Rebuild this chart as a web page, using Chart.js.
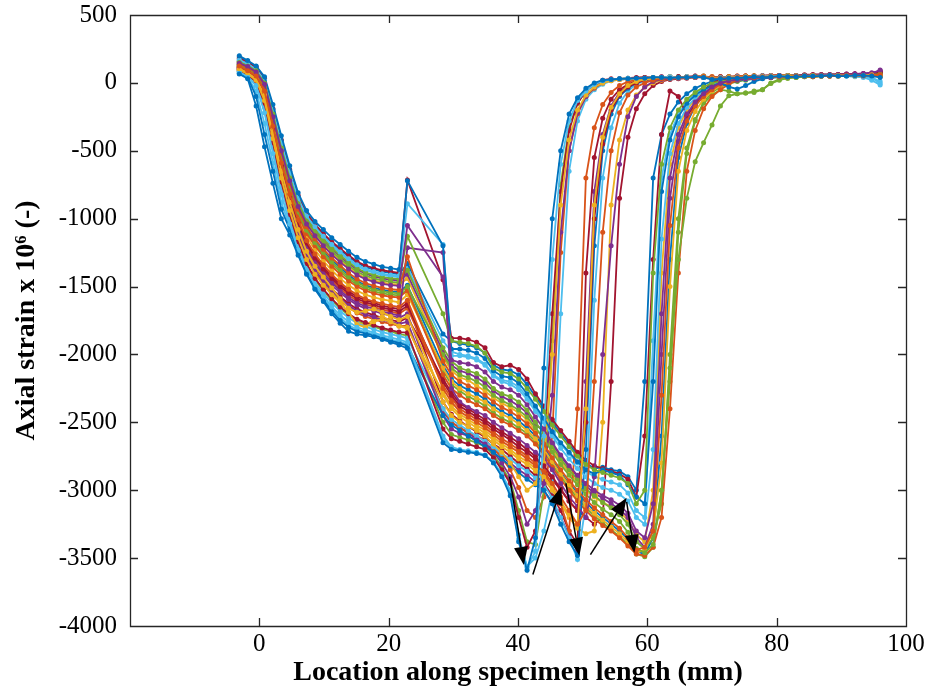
<!DOCTYPE html>
<html><head><meta charset="utf-8">
<script src="https://cdn.jsdelivr.net/npm/chart.js@4.4.0/dist/chart.umd.min.js"></script>
<style>html,body{margin:0;padding:0;background:#fff;}#wrap{width:930px;height:694px;}</style>
</head><body><div id="wrap"><canvas id="c" width="930" height="694"></canvas></div>
<script>
// Sensor locations along the specimen (mm)
const locationsMm = [-3.1,-1.8,-0.5,0.8,2.1,3.4,4.7,6.0,7.3,8.6,9.9,11.2,12.5,13.8,15.1,16.4,17.7,19.0,20.3,21.6,22.9,
28.4,29.7,31.0,32.3,33.6,34.9,36.2,37.5,38.8,40.1,41.4,42.7,
44.0,45.3,46.6,47.9,49.2,50.5,51.8,53.1,54.4,55.7,57.0,58.3,59.6,60.9,62.2,63.5,64.8,66.1,67.4,68.7,
70.0,71.3,72.6,73.9,75.2,76.5,77.8,79.1,80.4,81.7,83.0,84.3,85.6,86.9,88.2,89.5,90.8,92.1,93.4,94.7,96.0];

// Axial strain x 1e6, one array per recorded load step
const strain01 = [65,30,-170,-470,-740,-1000,-1120,-1270,-1410,-1520,-1610,-1700,-1770,-1830,-1850,-1860,-1870,-1890,-1910,-1930,-1955,
-2650,-2700,-2710,-2720,-2730,-2745,-2800,-2900,-3040,-3380,-3590,-3350,
-2100,-1000,-500,-230,-110,-40,0,20,25,30,30,35,35,40,40,35,40,40,45,40,
25,30,35,35,40,45,40,45,50,45,45,50,50,50,55,50,50,55,55,50,40];
const strain02 = [125,90,50,-60,-320,-590,-820,-1010,-1160,-1260,-1340,-1410,-1470,-1520,-1560,-1590,-1610,-1625,-1640,-1650,-1600,
-2250,-2350,-2420,-2460,-2500,-2540,-2590,-2640,-2680,-2720,-2770,-2820,
-2860,-2950,-3050,-3150,-3250,-3150,-2200,-1100,-500,-220,-90,-30,0,20,30,35,40,40,45,45,
30,35,35,40,40,40,45,45,45,45,50,50,45,50,50,50,55,55,50,55,60];
const strain03 = [105,75,30,-90,-370,-650,-880,-1080,-1240,-1350,-1430,-1510,-1590,-1660,-1690,-1680,-1665,-1690,-1720,-1745,-1720,
-2300,-2400,-2460,-2500,-2540,-2580,-2630,-2680,-2720,-2770,-2810,-2860,
-2900,-2980,-3080,-3180,-3250,-2400,-900,-400,-180,-80,-20,10,25,30,35,35,40,40,45,45,
35,35,40,40,45,45,45,50,45,50,50,50,55,50,50,55,55,50,55,60,55];
const strain04 = [145,120,80,-10,-250,-500,-720,-910,-1040,-1125,-1200,-1265,-1320,-1370,-1415,-1445,-1465,-1480,-1490,-1495,-1050,
-1430,-2040,-2060,-2070,-2090,-2130,-2200,-2240,-2260,-2300,-2370,-2460,
-2550,-2650,-2740,-2820,-2890,-2950,-3000,-3040,-3070,-3110,-3170,-3300,-3350,-3100,-1700,-700,-380,-230,-140,-80,
-30,0,15,25,30,35,40,40,45,45,50,50,50,55,55,55,60,65,65,70,95];
const strain05 = [150,125,90,0,-230,-480,-700,-890,-1020,-1100,-1175,-1240,-1295,-1345,-1390,-1420,-1440,-1455,-1465,-1470,-1130,
-1700,-1900,-1910,-1920,-1940,-1990,-2100,-2130,-2140,-2180,-2250,-2330,
-2420,-2520,-2600,-2680,-2750,-2810,-2850,-2870,-2890,-2910,-2950,-3100,-3000,-1400,-600,-330,-200,-120,-70,-30,
0,10,20,30,35,40,40,45,45,50,50,50,55,50,55,55,55,60,55,60,65];
const strain06 = [80,45,-20,-220,-520,-820,-1040,-1230,-1380,-1490,-1570,-1650,-1710,-1760,-1800,-1820,-1840,-1860,-1875,-1890,-1910,
-2600,-2680,-2700,-2710,-2720,-2740,-2790,-2880,-3000,-3330,-3570,-3450,
-2600,-1300,-600,-280,-130,-60,-10,15,25,30,35,30,35,40,40,45,40,45,45,40,
35,40,40,45,45,45,50,50,50,50,55,50,50,55,55,55,50,50,45,40,-5];
const strain07 = [110,85,45,-70,-330,-610,-840,-1030,-1180,-1290,-1370,-1440,-1500,-1550,-1590,-1615,-1635,-1655,-1670,-1685,-1640,
-2200,-2300,-2380,-2420,-2460,-2500,-2550,-2590,-2630,-2680,-2720,-2770,
-2820,-2900,-2990,-3080,-3150,-2500,-1000,-450,-200,-90,-30,0,20,30,35,40,40,40,45,45,
30,35,40,40,40,45,45,45,50,50,50,50,55,55,50,55,60,60,60,65,75];
const strain08 = [200,165,125,45,-160,-390,-610,-810,-940,-1020,-1080,-1140,-1190,-1240,-1285,-1315,-1335,-1355,-1365,-1375,-720,
-1200,-1960,-1960,-1970,-1990,-2030,-2120,-2160,-2170,-2210,-2290,-2380,
-2470,-2570,-2650,-2720,-2790,-2850,-2880,-2850,-2870,-2890,-2960,-3050,-3100,-2200,-800,-420,-250,-150,-90,-50,
-20,0,-30,-45,-20,10,30,40,45,45,50,50,50,55,50,55,55,60,55,55,60];
const strain09 = [140,110,75,-20,-260,-510,-740,-930,-1060,-1150,-1225,-1290,-1345,-1400,-1445,-1475,-1495,-1510,-1520,-1525,-1280,
-2050,-2150,-2200,-2230,-2260,-2300,-2350,-2390,-2420,-2460,-2510,-2580,
-2660,-2760,-2850,-2930,-3000,-3070,-3130,-3180,-3230,-3280,-3350,-3440,-3420,-3300,-2300,-1050,-480,-280,-170,-100,
-50,-10,15,30,35,35,40,45,45,45,50,50,50,50,55,55,60,55,55,60,55];
const strain10 = [95,65,20,-130,-410,-700,-940,-1140,-1300,-1410,-1490,-1560,-1620,-1690,-1780,-1800,-1760,-1740,-1760,-1790,-1800,
-2350,-2450,-2500,-2530,-2560,-2600,-2660,-2720,-2800,-2900,-3000,-2950,
-2800,-2000,-900,-420,-200,-90,-30,0,15,25,30,30,35,40,40,45,40,45,45,50,
30,35,35,40,40,45,45,45,45,50,50,50,50,55,55,50,55,55,60,55,50];
const strain11 = [115,80,40,-80,-350,-630,-860,-1060,-1210,-1320,-1400,-1470,-1530,-1580,-1620,-1645,-1665,-1685,-1700,-1715,-1215,
-1250,-2250,-2350,-2390,-2420,-2450,-2500,-2540,-2580,-2620,-2670,-2720,
-2770,-2850,-2950,-3050,-3120,-3200,-2900,-2000,-1200,-600,-250,-100,-30,10,25,30,35,40,40,45,
30,30,35,40,40,45,45,50,50,50,50,55,55,55,60,60,60,65,70,75,85];
const strain12 = [130,105,70,-30,-280,-530,-760,-950,-1085,-1175,-1250,-1320,-1375,-1430,-1470,-1500,-1520,-1535,-1545,-1550,-1500,
-2000,-2100,-2150,-2170,-2200,-2240,-2300,-2340,-2370,-2410,-2460,-2540,
-2620,-2720,-2810,-2890,-2960,-3030,-3090,-3140,-3180,-3230,-3310,-3430,-3460,-3400,-3000,-2100,-1300,-850,-580,-440,
-310,-170,-95,-80,-75,-60,-50,-5,20,35,40,45,45,50,50,55,55,55,60,55,60];
const strain13 = [170,140,100,20,-200,-440,-660,-850,-980,-1060,-1130,-1190,-1245,-1295,-1340,-1370,-1390,-1405,-1415,-1420,-890,
-1190,-2010,-2010,-2020,-2040,-2080,-2160,-2200,-2220,-2260,-2330,-2420,
-2500,-2600,-2690,-2770,-2840,-2900,-2950,-2980,-3000,-3030,-3080,-3200,-3250,-2700,-1150,-520,-300,-180,-110,-60,
-20,5,20,30,35,40,45,45,45,50,50,50,50,50,55,50,50,45,40,20,-15];
const strain14 = [90,60,10,-150,-440,-730,-970,-1170,-1330,-1440,-1520,-1590,-1650,-1700,-1740,-1765,-1785,-1805,-1820,-1835,-1840,
-2550,-2620,-2640,-2660,-2680,-2700,-2760,-2850,-2950,-3200,-3420,-3300,
-2700,-1700,-800,-350,-150,-60,-10,20,30,30,35,40,40,35,40,45,45,40,45,50,
35,40,40,45,45,45,45,50,50,50,55,55,55,55,55,60,60,60,65,65,80];
const strain15 = [70,40,-100,-380,-650,-930,-1080,-1250,-1400,-1510,-1600,-1680,-1750,-1800,-1830,-1845,-1860,-1880,-1900,-1915,-1935,
-2450,-2520,-2560,-2600,-2640,-2680,-2720,-2770,-2820,-2870,-2920,-2960,
-3000,-3100,-3250,-3380,-3480,-2700,-1200,-500,-230,-100,-40,0,20,30,35,35,40,40,45,45,
30,35,40,40,40,45,45,45,50,50,50,55,50,55,55,55,55,60,55,55,50];
const strain16 = [135,100,60,-40,-290,-550,-780,-970,-1110,-1200,-1280,-1350,-1410,-1460,-1500,-1530,-1550,-1565,-1575,-1580,-1530,
-2150,-2250,-2300,-2340,-2370,-2400,-2450,-2490,-2520,-2560,-2600,-2660,
-2740,-2830,-2920,-3000,-3080,-3150,-3210,-3260,-3300,-3350,-3410,-3470,-3480,-3420,-3200,-2400,-1400,-650,-350,-190,
-100,-50,-10,20,30,35,40,40,45,45,50,50,50,55,55,55,55,60,55,55,50];
const strain17 = [120,95,55,-50,-300,-570,-800,-990,-1130,-1230,-1310,-1380,-1440,-1490,-1530,-1560,-1580,-1595,-1605,-1615,-1560,
-2100,-2200,-2250,-2290,-2320,-2350,-2400,-2440,-2470,-2510,-2560,-2620,
-2700,-2790,-2880,-2960,-3040,-3110,-3170,-3220,-3270,-3320,-3380,-3460,-3440,-3300,-2800,-1500,-650,-350,-210,-120,
-60,-20,10,25,35,40,40,45,45,45,50,50,50,55,55,50,55,55,60,55,45];
const strain18 = [100,70,25,-110,-390,-680,-910,-1110,-1270,-1380,-1460,-1530,-1590,-1640,-1680,-1705,-1725,-1745,-1760,-1775,-1760,
-2450,-2550,-2580,-2600,-2630,-2660,-2720,-2800,-2900,-3050,-3250,-3150,
-2950,-2300,-1100,-500,-220,-100,-30,10,20,30,30,35,40,40,45,40,45,45,50,45,
35,35,40,40,45,45,50,50,50,50,55,55,55,60,60,60,65,65,70,70,90];
const strain19 = [160,130,95,10,-220,-460,-680,-870,-1000,-1080,-1150,-1215,-1270,-1320,-1365,-1395,-1415,-1430,-1440,-1445,-1380,
-1950,-2050,-2100,-2120,-2140,-2180,-2250,-2290,-2310,-2350,-2410,-2500,
-2580,-2680,-2770,-2850,-2920,-2990,-3040,-3090,-3130,-3180,-3250,-3380,-3430,-3350,-3100,-2000,-1000,-480,-270,-150,
-90,-50,-60,-80,-75,-70,-50,0,25,35,40,45,45,50,50,50,55,55,55,60,70];
const strain20 = [85,55,0,-180,-470,-770,-1000,-1200,-1360,-1470,-1550,-1620,-1680,-1730,-1770,-1795,-1815,-1835,-1850,-1865,-1880,
-2400,-2480,-2520,-2560,-2600,-2640,-2680,-2730,-2770,-2820,-2860,-2910,
-2960,-3060,-3200,-3350,-3510,-3100,-1600,-700,-330,-150,-60,-10,15,30,35,40,40,45,45,40,
30,35,40,40,45,45,45,50,50,50,50,55,55,50,50,55,55,50,50,40,10];
const strain21 = [180,150,115,30,-190,-420,-640,-830,-960,-1040,-1110,-1170,-1220,-1270,-1315,-1345,-1365,-1380,-1390,-1400,-715,
-1450,-1880,-1880,-1890,-1910,-1950,-2060,-2090,-2080,-2110,-2180,-2290,
-2380,-2480,-2560,-2640,-2720,-2780,-2820,-2840,-2860,-2880,-2920,-3050,-2600,-1300,-380,-60,-100,-240,-160,-60,
0,20,30,35,40,40,45,45,50,50,50,55,55,55,60,60,60,65,65,70,80];
const strain22 = [190,155,120,35,-195,-430,-650,-840,-970,-1050,-1120,-1180,-1230,-1280,-1325,-1355,-1375,-1390,-1400,-1410,-1330,
-1850,-1900,-1920,-1930,-1950,-1990,-2080,-2110,-2120,-2150,-2220,-2310,
-2400,-2500,-2580,-2660,-2740,-2800,-2840,-2830,-2850,-2860,-2900,-3000,-2200,-700,-380,-230,-140,-80,-40,-10,
10,25,30,35,40,40,45,45,45,50,50,50,55,50,55,55,55,60,55,60,70];
const strain23 = [120,88,42,-75,-340,-620,-850,-1045,-1195,-1305,-1385,-1455,-1515,-1565,-1605,-1630,-1650,-1670,-1685,-1700,-1660,
-2230,-2320,-2400,-2440,-2480,-2520,-2570,-2620,-2660,-2700,-2750,-2800,
-2880,-2970,-3100,-3300,-2400,-700,-330,-160,-70,-20,10,20,30,30,35,40,40,45,45,45,
45,45,45,50,50,50,50,55,55,50,55,55,55,60,55,60,60,55,60,60,65];
const strain24 = [100,72,28,-100,-380,-660,-890,-1090,-1250,-1370,-1460,-1540,-1610,-1700,-1760,-1790,-1740,-1720,-1750,-1790,-1810,
-2280,-2380,-2440,-2480,-2520,-2560,-2610,-2660,-2700,-2750,-2790,-2840,
-2920,-3000,-3100,-3200,-3280,-3320,-3300,-2500,-900,-420,-200,-90,-30,0,20,30,35,40,40,45,
45,40,45,45,50,50,50,50,55,55,55,50,55,55,60,60,55,60,60,55,50];
const strain25 = [155,128,92,5,-225,-470,-690,-880,-1010,-1090,-1160,-1225,-1280,-1330,-1375,-1405,-1425,-1440,-1450,-1455,-1410,
-1980,-2080,-2120,-2140,-2170,-2210,-2270,-2310,-2340,-2380,-2430,-2520,
-2560,-2660,-2750,-2830,-2900,-2970,-3020,-3060,-3100,-3140,-3200,-3350,-3420,-3250,-2000,-850,-430,-250,-150,-80,
-40,-10,10,25,30,35,40,40,45,45,45,50,50,50,55,55,55,55,60,60,65];
const strain26 = [88,58,5,-160,-450,-750,-980,-1180,-1340,-1450,-1530,-1600,-1660,-1710,-1750,-1780,-1795,-1815,-1830,-1850,-1860,
-2500,-2590,-2610,-2630,-2650,-2680,-2740,-2830,-2930,-3150,-3380,-3400,
-3000,-1900,-750,-330,-150,-60,-10,15,25,30,35,35,40,40,40,45,45,40,45,45,
40,40,45,45,45,50,50,50,50,55,55,55,55,55,60,60,55,60,60,60,75];
const strain27 = [165,135,98,15,-210,-450,-670,-860,-990,-1070,-1140,-1200,-1255,-1305,-1350,-1380,-1400,-1415,-1425,-1430,-1360,
-1900,-1980,-2000,-2010,-2030,-2070,-2150,-2190,-2200,-2240,-2310,-2400,
-2480,-2580,-2660,-2730,-2800,-2860,-2900,-2920,-2940,-2960,-3020,-3150,-3200,-1900,-700,-380,-230,-140,-80,-40,
-20,0,15,25,30,35,40,45,45,45,50,50,50,55,55,55,60,60,60,55,60];
const strain28 = [118,86,48,-65,-330,-600,-830,-1020,-1170,-1275,-1355,-1425,-1485,-1535,-1575,-1600,-1620,-1640,-1655,-1665,-1620,
-2350,-2440,-2490,-2530,-2570,-2610,-2660,-2700,-2750,-2800,-2840,-2890,
-2950,-3040,-3150,-3300,-3400,-1400,-550,-260,-120,-50,-10,15,25,30,35,35,40,45,45,40,
40,45,45,45,50,50,50,50,55,55,55,55,60,60,55,60,60,65,60,65,70];
const strain29 = [138,105,68,-25,-270,-520,-750,-940,-1075,-1165,-1240,-1305,-1360,-1415,-1460,-1490,-1510,-1525,-1535,-1540,-1490,
-2080,-2180,-2230,-2260,-2290,-2330,-2380,-2420,-2450,-2490,-2540,-2600,
-2680,-2780,-2870,-2950,-3020,-3090,-3150,-3200,-3250,-3300,-3360,-3450,-3470,-3350,-2600,-1300,-550,-300,-170,-90,
-50,-20,0,15,25,30,35,40,40,45,45,50,50,50,55,55,55,60,60,55,55];
const strain30 = [98,68,22,-120,-400,-690,-920,-1120,-1285,-1395,-1475,-1545,-1605,-1655,-1695,-1720,-1740,-1760,-1775,-1790,-1790,
-2400,-2500,-2540,-2570,-2600,-2630,-2690,-2760,-2850,-2980,-3150,-3200,
-3050,-2600,-1250,-500,-230,-100,-40,0,20,25,30,35,35,40,45,40,45,45,50,45,
40,40,45,45,45,50,50,50,55,55,55,55,55,60,60,60,60,60,65,65,60];
const strain31 = [152,122,88,-5,-240,-490,-710,-900,-1030,-1110,-1185,-1255,-1310,-1360,-1405,-1435,-1455,-1470,-1480,-1485,-1440,
-2020,-2120,-2170,-2190,-2230,-2270,-2320,-2360,-2390,-2430,-2480,-2560,
-2600,-2700,-2790,-2870,-2940,-3000,-3050,-3090,-3120,-3160,-3220,-3330,-3380,-3000,-1400,-600,-330,-200,-120,-60,
-30,-5,10,20,30,35,40,40,45,45,50,50,50,50,55,55,55,55,60,60,60];
const strain32 = [112,82,38,-85,-360,-640,-870,-1070,-1225,-1335,-1415,-1490,-1545,-1595,-1635,-1660,-1680,-1700,-1715,-1730,-1700,
-2420,-2500,-2540,-2580,-2620,-2660,-2700,-2750,-2800,-2850,-2890,-2940,
-3000,-3090,-3200,-3330,-3450,-2200,-800,-380,-170,-70,-20,10,25,30,35,40,40,40,45,45,
40,45,45,45,50,50,50,55,55,55,55,55,60,60,60,60,60,65,65,60,65];
const strain33 = [128,100,65,-35,-285,-540,-770,-960,-1095,-1190,-1265,-1335,-1390,-1445,-1485,-1515,-1535,-1550,-1560,-1565,-1520,
-2120,-2220,-2270,-2310,-2340,-2380,-2430,-2470,-2500,-2540,-2580,-2640,
-2720,-2810,-2900,-2980,-3060,-3130,-3190,-3240,-3290,-3340,-3400,-3470,-3490,-3420,-3000,-2200,-1100,-520,-280,-140,
-70,-30,-5,10,20,30,35,40,40,45,45,50,50,50,55,55,55,60,60,60,55];
const strain34 = [75,42,-60,-300,-590,-880,-1060,-1240,-1390,-1500,-1585,-1665,-1730,-1785,-1815,-1835,-1850,-1870,-1890,-1905,-1925,
-2620,-2690,-2705,-2715,-2725,-2742,-2795,-2890,-3020,-3360,-3560,-3500,
-3300,-3000,-1700,-650,-280,-120,-50,-10,15,25,30,30,35,40,40,45,45,45,45,50,
40,40,45,45,45,50,50,50,55,55,55,55,55,60,60,55,60,60,60,65,55];
const strain35 = [108,78,35,-95,-375,-655,-885,-1085,-1245,-1360,-1440,-1515,-1575,-1625,-1665,-1690,-1710,-1730,-1745,-1760,-1730,
-2180,-2280,-2360,-2400,-2440,-2480,-2530,-2570,-2610,-2650,-2700,-2750,
-2840,-2920,-3000,-3080,-3150,-3200,-3250,-3200,-2200,-850,-400,-190,-80,-20,10,25,30,35,40,40,
45,45,45,50,50,50,55,55,55,55,55,60,60,60,60,60,65,65,65,70,75];

const allStrains = [strain01,strain02,strain03,strain04,strain05,strain06,strain07,strain08,strain09,strain10,
  strain11,strain12,strain13,strain14,strain15,strain16,strain17,strain18,strain19,strain20,strain21,
  strain22,strain23,strain24,strain25,strain26,strain27,strain28,strain29,strain30,strain31,strain32,strain33,strain34,strain35];

// Axis ticks
const xTickValues = [0,20,40,60,80,100];
const yTickValues = [500,0,-500,-1000,-1500,-2000,-2500,-3000,-3500,-4000];

// Annotation arrows (data units): tail and tip
const arrowTails = [[38.7,-2900],[42.3,-3620],[47.4,-2950],[51.2,-3475],[56.8,-3085]];
const arrowTips  = [[40.9,-3550],[46.7,-2975],[49.5,-3483],[56.8,-3056],[58.0,-3461]];

const palette = ['#0072BD','#D95319','#EDB120','#7E2F8E','#77AC30','#4DBEEE','#A2142F'];

const datasets = allStrains.map((vals, k) => ({
  data: vals.map((v, i) => ({x: locationsMm[i], y: v})),
  borderColor: palette[k % 7],
  backgroundColor: palette[k % 7],
  pointBackgroundColor: palette[k % 7],
  pointBorderColor: palette[k % 7],
  borderWidth: 1.8,
  pointRadius: 2.5,
  pointBorderWidth: 0,
  tension: 0,
  fill: false
}));

const framePlugin = {
  id: 'frame',
  afterDatasetsDraw(chart) {
    const {ctx, chartArea: a, scales: {x, y}} = chart;
    ctx.save();
    ctx.strokeStyle = '#000'; ctx.fillStyle = '#000'; ctx.lineWidth = 1.5;
    for (let k = 0; k < arrowTails.length; k++) {
      const x0 = x.getPixelForValue(arrowTails[k][0]), y0 = y.getPixelForValue(arrowTails[k][1]);
      const x1 = x.getPixelForValue(arrowTips[k][0]), y1 = y.getPixelForValue(arrowTips[k][1]);
      const ang = Math.atan2(y1 - y0, x1 - x0);
      const hl = 18, hw = 7;
      const bx = x1 - hl * Math.cos(ang), by = y1 - hl * Math.sin(ang);
      ctx.beginPath(); ctx.moveTo(x0, y0); ctx.lineTo(bx, by); ctx.stroke();
      ctx.beginPath();
      ctx.moveTo(x1, y1);
      ctx.lineTo(bx + hw * Math.sin(ang), by - hw * Math.cos(ang));
      ctx.lineTo(bx - hw * Math.sin(ang), by + hw * Math.cos(ang));
      ctx.closePath(); ctx.fill();
    }
    ctx.strokeStyle = '#262626'; ctx.lineWidth = 1.3;
    ctx.beginPath();
    ctx.rect(Math.round(a.left) + 0.5, Math.round(a.top) + 0.5, Math.round(a.right - a.left), Math.round(a.bottom - a.top));
    const tl = 8;
    xTickValues.forEach(v => {
      const px = Math.round(x.getPixelForValue(v)) + 0.5;
      ctx.moveTo(px, a.bottom); ctx.lineTo(px, a.bottom - tl);
      ctx.moveTo(px, a.top); ctx.lineTo(px, a.top + tl);
    });
    yTickValues.forEach(v => {
      const py = Math.round(y.getPixelForValue(v)) + 0.5;
      ctx.moveTo(a.left, py); ctx.lineTo(a.left + tl, py);
      ctx.moveTo(a.right, py); ctx.lineTo(a.right - tl, py);
    });
    ctx.stroke();
    ctx.restore();
  }
};

const tickFont = {family: "'Liberation Serif', 'Times New Roman', serif", size: 25};
const titleFont = {family: "'Liberation Serif', 'Times New Roman', serif", size: 28, weight: 'bold'};

new Chart(document.getElementById('c'), {
  type: 'line',
  data: {datasets},
  options: {
    responsive: false, animation: false, devicePixelRatio: 1,
    layout: {padding: {top: 15, right: 24, left: 0, bottom: 0}},
    plugins: {legend: {display: false}, tooltip: {enabled: false}},
    scales: {
      x: {
        type: 'linear', min: -20, max: 100,
        afterBuildTicks: s => { s.ticks = xTickValues.map(v => ({value: v})); },
        ticks: {callback: v => String(v), font: tickFont, color: '#000', padding: 3, maxRotation: 0, autoSkip: false},
        grid: {display: false, drawTicks: false}, border: {display: false},
        title: {display: true, text: 'Location along specimen length (mm)', font: titleFont, color: '#000', padding: {top: 0, bottom: 4}},
        afterFit: s => { s.height = 68; s.paddingLeft = 0; s.paddingRight = 0; }
      },
      y: {
        type: 'linear', min: -4000, max: 500,
        afterBuildTicks: s => { s.ticks = yTickValues.map(v => ({value: v})); },
        ticks: {callback: v => String(v), font: tickFont, color: '#000', padding: 13, autoSkip: false},
        grid: {display: false, drawTicks: false}, border: {display: false},
        title: {display: true, text: 'Axial strain x 10\u2076 (-)', font: titleFont, color: '#000', padding: {top: 10, bottom: 0}},
        afterFit: s => { s.width = 130; s.paddingTop = 0; s.paddingBottom = 0; }
      }
    }
  },
  plugins: [framePlugin]
});
</script></body></html>
